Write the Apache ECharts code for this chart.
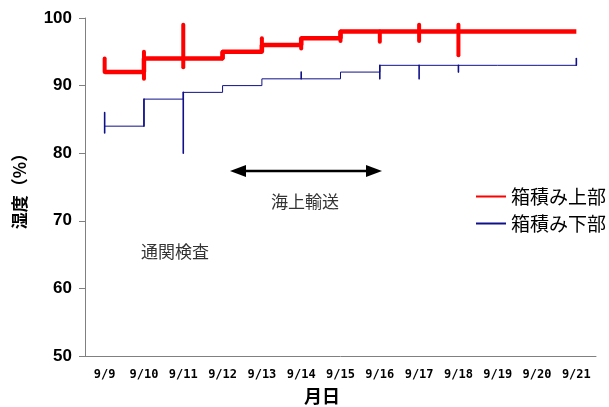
<!DOCTYPE html>
<html>
<head>
<meta charset="utf-8">
<script src="https://cdn.jsdelivr.net/npm/echarts@6/dist/echarts.min.js"></script>
<style>
  html, body { margin: 0; padding: 0; background: #ffffff; }
  #chart { width: 609px; height: 407px; }
</style>
</head>
<body>
<div id="chart"></div>
<script>
// Dates on the horizontal axis
const dates = ['9/9', '9/10', '9/11', '9/12', '9/13', '9/14', '9/15', '9/16', '9/17', '9/18', '9/19', '9/20', '9/21'];

// Daily humidity (%) - top of the stack
const upperValues = [92, 94, 94, 95, 96, 97, 98, 98, 98, 98, 98, 98, 98];
// Daily humidity (%) - bottom of the stack
const lowerValues = [84, 88, 89, 90, 91, 91, 92, 93, 93, 93, 93, 93, 93];

// Short-term fluctuation ranges: [day index, low, high]
const upperRanges = [
  [0, 92, 94], [1, 91, 95], [2, 92.7, 99], [3, 94, 95], [4, 95, 97],
  [5, 95.5, 97], [6, 96.6, 98], [7, 96.5, 98], [8, 96.6, 99], [9, 94.5, 99]
];
const lowerRanges = [
  [0, 83, 86], [1, 84, 88], [2, 80, 89], [5, 91, 92],
  [7, 91, 93], [8, 91, 93], [9, 92, 93], [12, 93, 94]
];

const seriesNames = ['箱積み上部', '箱積み下部'];
const yTicks = { min: 50, max: 100, step: 10 };

const chart = echarts.init(document.getElementById('chart'), null, { renderer: 'canvas' });

function rangeRenderer(width, color) {
  return function (params, api) {
    const p1 = api.coord([api.value(0), api.value(1)]);
    const p2 = api.coord([api.value(0), api.value(2)]);
    return {
      type: 'line',
      shape: { x1: p1[0], y1: p1[1], x2: p2[0], y2: p2[1] },
      style: { stroke: color, lineWidth: width, lineCap: 'round' }
    };
  };
}

const RED = '#ff0000';
const NAVY = '#10108a';

chart.setOption({
  animation: false,
  backgroundColor: '#ffffff',
  textStyle: { fontFamily: '"Noto Sans CJK JP", sans-serif' },
  grid: { left: 85, right: 13, top: 18, bottom: 51, containLabel: false },
  legend: {
    data: seriesNames,
    orient: 'vertical',
    left: 470,
    top: 182,
    itemWidth: 30,
    itemHeight: 12,
    itemGap: 8,
    itemStyle: { opacity: 0 },
    textStyle: { fontSize: 19, color: '#000000', fontFamily: '"Noto Sans CJK JP", sans-serif' }
  },
  xAxis: {
    type: 'category',
    data: dates,
    boundaryGap: true,
    axisLine: { lineStyle: { color: '#808080', width: 1 } },
    axisTick: { show: false },
    axisLabel: {
      interval: 0,
      margin: 13,
      fontSize: 12,
      fontWeight: 'bold',
      color: '#000000',
      fontFamily: '"DejaVu Sans Mono", monospace'
    },
    splitLine: { show: false }
  },
  yAxis: {
    type: 'value',
    min: yTicks.min,
    max: yTicks.max,
    interval: yTicks.step,
    name: '湿度（%）',
    nameLocation: 'middle',
    nameRotate: 90,
    nameGap: 57,
    nameTextStyle: { fontSize: 17, fontWeight: 'bold', color: '#000000', fontFamily: '"Noto Sans CJK JP", sans-serif' },
    axisLine: { show: true, lineStyle: { color: '#808080', width: 1 } },
    axisTick: { show: true, length: 6, lineStyle: { color: '#808080' } },
    axisLabel: {
      margin: 13,
      fontSize: 17,
      fontWeight: 'bold',
      color: '#000000',
      fontFamily: '"Liberation Sans", Arial, sans-serif'
    },
    splitLine: { show: false }
  },
  series: [
    {
      name: seriesNames[0],
      type: 'line',
      step: 'end',
      data: upperValues,
      symbol: 'none',
      color: RED,
      lineStyle: { color: RED, width: 4.5 },
      z: 3
    },
    {
      name: seriesNames[1],
      type: 'line',
      step: 'end',
      data: lowerValues,
      symbol: 'none',
      color: NAVY,
      lineStyle: { color: NAVY, width: 1 },
      z: 2
    },
    {
      type: 'custom',
      name: 'upperRange',
      data: upperRanges,
      renderItem: rangeRenderer(4, RED),
      encode: { x: 0, y: [1, 2] },
      z: 3
    },
    {
      type: 'custom',
      name: 'lowerRange',
      data: lowerRanges,
      renderItem: rangeRenderer(1.6, NAVY),
      encode: { x: 0, y: [1, 2] },
      z: 2
    }
  ],
  graphic: [
    // double-headed arrow marking the sea transport period
    { type: 'line', shape: { x1: 242, y1: 171, x2: 370, y2: 171 }, style: { stroke: '#000000', lineWidth: 2.5 } },
    { type: 'polygon', shape: { points: [[230, 171], [246, 165], [246, 177]] }, style: { fill: '#000000' } },
    { type: 'polygon', shape: { points: [[382, 171], [366, 165], [366, 177]] }, style: { fill: '#000000' } },
    {
      type: 'text',
      style: { text: '海上輸送', x: 305, y: 202, align: 'center', verticalAlign: 'middle', fill: '#333333', font: '17px "Noto Sans CJK JP", sans-serif' }
    },
    {
      type: 'text',
      style: { text: '通関検査', x: 175, y: 252, align: 'center', verticalAlign: 'middle', fill: '#333333', font: '17px "Noto Sans CJK JP", sans-serif' }
    },
    {
      type: 'text',
      style: { text: '月日', x: 322, y: 396, align: 'center', verticalAlign: 'middle', fill: '#000000', font: 'bold 18px "Noto Sans CJK JP", sans-serif' }
    }
  ]
});
</script>
</body>
</html>
